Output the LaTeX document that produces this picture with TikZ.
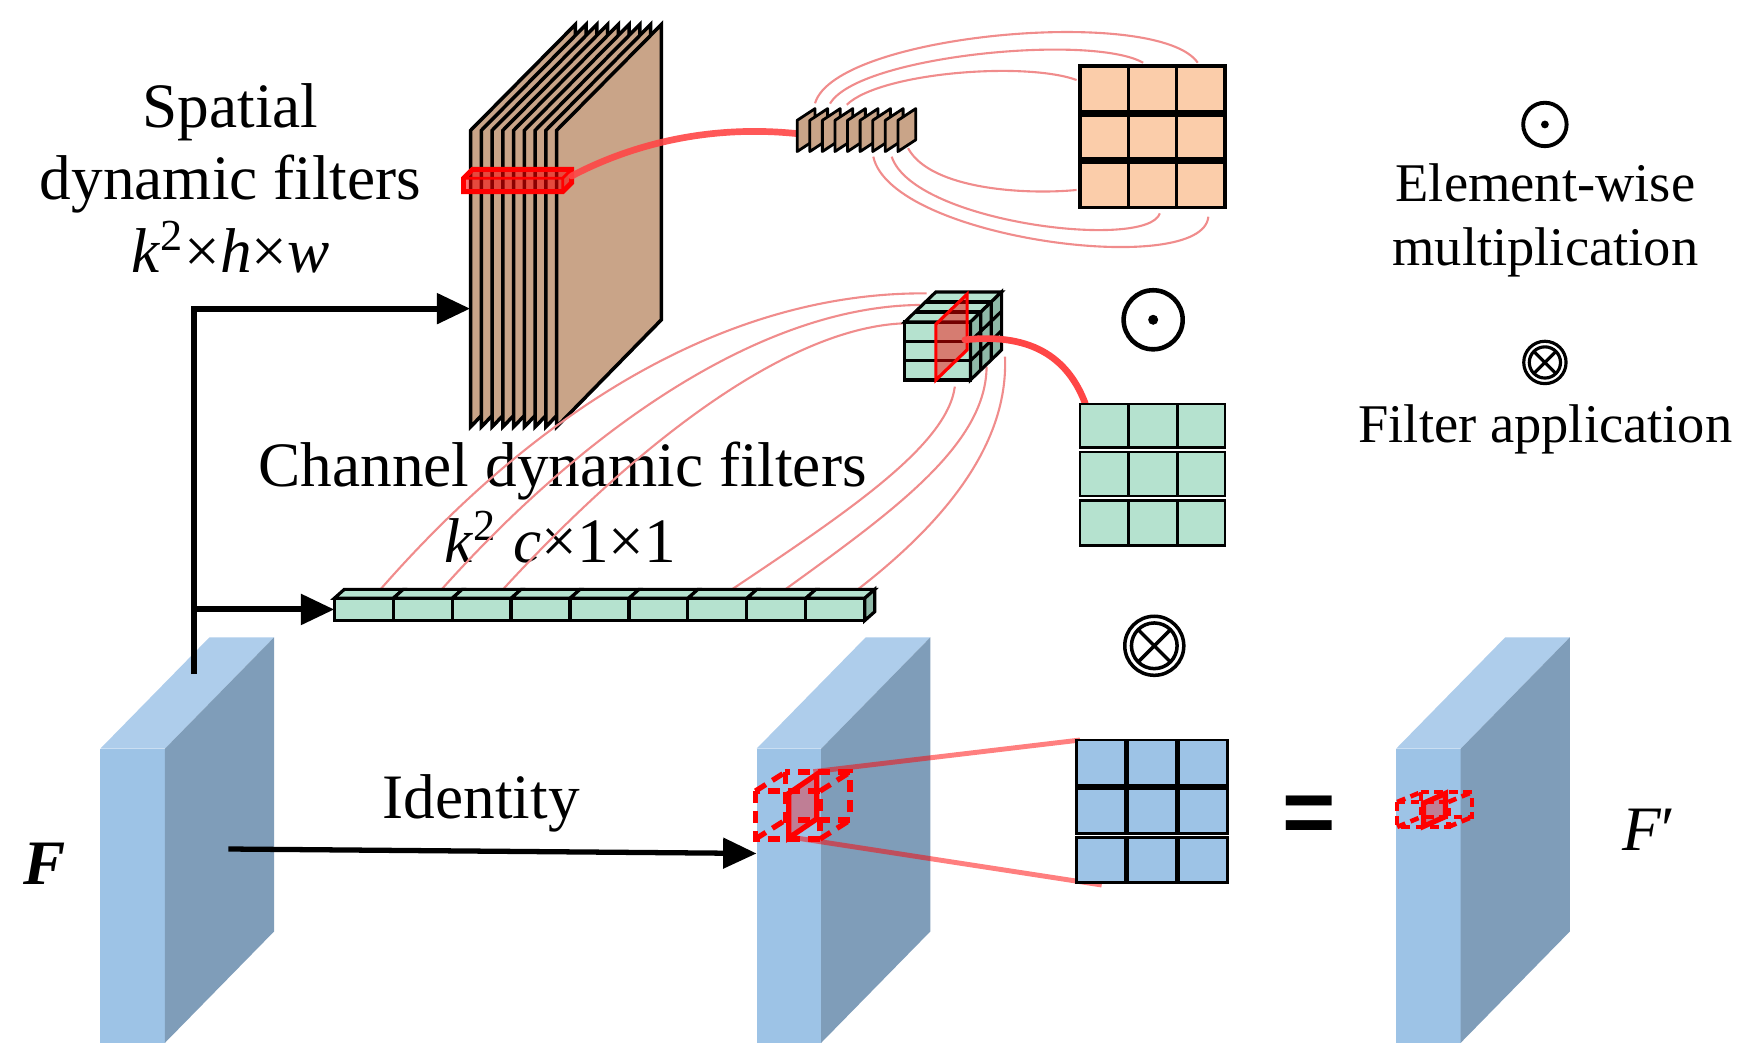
\documentclass[tikz,border=0pt]{standalone}
\usepackage{fontspec}
\setmainfont{Liberation Serif}
\newfontfamily\eqfont{Liberation Sans}
\usetikzlibrary{arrows.meta}
\definecolor{bfront}{RGB}{157,195,230}
\definecolor{btop}{RGB}{174,205,235}
\definecolor{bside}{RGB}{127,157,185}
\definecolor{brownf}{RGB}{201,164,136}
\definecolor{peach}{RGB}{251,205,170}
\definecolor{mint}{RGB}{181,226,207}
\definecolor{mintdark}{RGB}{143,185,168}
\definecolor{pinkline}{RGB}{240,140,140}
\definecolor{redline}{RGB}{255,70,70}
\newcommand\dcube{%
  \draw[rdash] (0,17) rectangle (58,60);
  \draw[rdash] (27,0) rectangle (85,43);
  \draw[rdash] (0,17) -- (27,0) (58,17) -- (85,0) (58,60) -- (85,43) (0,60) -- (27,43);
  \filldraw[draw=red,line width=1.5pt,fill=red,fill opacity=0.35] (30,59) -- (30,19) -- (55,2) -- (55,42) -- cycle;
}
\begin{document}
\begin{tikzpicture}[x=0.01114cm,y=-0.01114cm,
  blackarrow/.style={line width=1.7pt,-{Triangle[length=9.5pt,width=8.5pt]}},
  pinkc/.style={draw=pinkline,line width=0.6pt},
  thickred/.style={draw=redline,line width=1.9pt,line cap=round},
  lbl/.style={font=\fontsize{18}{21}\selectfont,inner sep=0pt,anchor=base},
  leg/.style={font=\fontsize{15.5}{18}\selectfont,inner sep=0pt,anchor=base},
  rdash/.style={draw=red,line width=1.5pt,dash pattern=on 3.5pt off 2.2pt}
]
\useasboundingbox (0,0) rectangle (1568,949);

% ---------- blue feature blocks ----------
\foreach \ox in {0,589,1163}{
  \begin{scope}[shift={(\ox,0)}]
    \fill[bfront] (90,672) rectangle (148,936);
    \fill[btop] (90,672) -- (188,572) -- (246,572) -- (148,672) -- cycle;
    \fill[bside] (148,672) -- (246,572) -- (246,836) -- (148,936) -- cycle;
  \end{scope}
}

% ---------- black arrows ----------
\coordinate (Fout) at (174,605);
\coordinate (split) at (174,547);
\coordinate (stackin) at (422,277);
\coordinate (barin) at (300,547);
\coordinate (idS) at (205,762);
\coordinate (idE) at (679,766);
\draw[blackarrow] (Fout) |- (stackin);
\draw[blackarrow] (split) -- (barin);
\draw[blackarrow,line width=1.5pt] (idS) -- (idE);

% ---------- texts ----------
\node[lbl] (sp1) at (207,114) {Spatial};
\node[lbl] (sp2) at (207,179) {dynamic filters};
\node[lbl] (sp3) at (207,245) {\textit{k}\textsuperscript{2}×\textit{h}×\textit{w}};
\node[lbl] (ch1) at (505,437) {Channel dynamic filters};
\node[lbl] (ch2) at (503,505) {\textit{k}\textsuperscript{2} \textit{c}×1×1};
\node[lbl] (idt) at (432,735) {Identity};
\node[lbl] (Fin) at (40,794) {\textbf{\textit{F}}};
\node[lbl] (Fo) at (1480,763) {\textit{F}′};
\node[leg] (lg1) at (1387,181) {Element-wise};
\node[leg] (lg2) at (1387,238) {multiplication};
\node[leg] (lg3) at (1387,397) {Filter application};
\node[font=\eqfont\bfseries\fontsize{26}{26}\selectfont,inner sep=0pt] (eq) at (1175,736) {=};

% ---------- spatial filter stack ----------
\foreach \i in {0,...,8}{
  \pgfmathsetmacro{\xx}{422.4+9.65*\i}
  \filldraw[fill=brownf,draw=black,line width=1pt] (\xx,117) -- ({\xx+94},22) -- ({\xx+94},287) -- (\xx,383) -- cycle;
}
\coordinate (redbar) at (513,158);
\filldraw[draw=red,line width=1.4pt,fill=red,fill opacity=0.55] (416,160) -- (424,152) -- (513,152) -- (513,164) -- (505,172) -- (416,172) -- cycle;
\draw[red,line width=0.8pt] (416,160) -- (505,160) -- (513,152) (505,160) -- (505,172);

% spatial thin curves
\coordinate (sT1) at (760,94);   \coordinate (pT1) at (966.3,71.8);
\coordinate (sT2) at (745,93);   \coordinate (pT2) at (1026,56.3);
\coordinate (sT3) at (731.5,92.7); \coordinate (pT3) at (1075,56.3);
\coordinate (sB1) at (815,133);  \coordinate (pB1) at (966.3,170.5);
\coordinate (sB2) at (800.3,140.6); \coordinate (pB2) at (1041,191.5);
\coordinate (sB3) at (783.8,140.6); \coordinate (pB3) at (1084.5,194.5);
\draw[pinkc] (sT1) .. controls (790,65) and (920,55) .. (pT1);
\draw[pinkc] (sT2) .. controls (770,50) and (980,30) .. (pT2);
\draw[pinkc] (sT3) .. controls (750,30) and (1040,5) .. (pT3);
\draw[pinkc] (sB1) .. controls (835,170) and (920,175) .. (pB1);
\draw[pinkc] (sB2) .. controls (820,200) and (1030,225) .. (pB2);
\draw[pinkc] (sB3) .. controls (800,215) and (1080,250) .. (pB3);

\coordinate (smallin) at (716,120);
\draw[thickred,opacity=0.9] (redbar) .. controls (570,128) and (640,112) .. (smallin);

\foreach \i in {0,...,8}{
  \pgfmathsetmacro{\xx}{715.5+11.3*\i}
  \filldraw[fill=brownf,draw=black,line width=0.8pt,line join=round] (\xx,136) -- (\xx,108) -- ({\xx+16},97.5) -- ({\xx+16},125.5) -- cycle;
}

% peach grid
\fill[peach] (969.3,59.2) rectangle (1099.5,186.4);
\draw[line width=1pt] (969.3,59.2) rectangle (1099.5,186.4) (1012.7,59.2) -- (1012.7,186.4) (1056.1,59.2) -- (1056.1,186.4);
\draw[line width=2pt] (969.3,101.6) -- (1099.5,101.6) (969.3,144) -- (1099.5,144);

% ---------- channel filters ----------
\coordinate (cL1) at (339.7,531); \coordinate (eL1) at (831.7,263.3);
\coordinate (cL2) at (394.6,531); \coordinate (eL2) at (825.7,273.7);
\coordinate (cL3) at (449.6,531); \coordinate (eL3) at (810.7,290.2);
\coordinate (cR1) at (653.9,531); \coordinate (eR1) at (857,347);
\coordinate (cR2) at (702,531);   \coordinate (eR2) at (885.5,329);
\coordinate (cR3) at (767.3,531); \coordinate (eR3) at (902,320);
\draw[pinkc] (cL1) .. controls (480,370) and (650,262) .. (eL1);
\draw[pinkc] (cL2) .. controls (520,390) and (680,275) .. (eL2);
\draw[pinkc] (cL3) .. controls (560,410) and (700,295) .. (eL3);
\draw[pinkc] (cR1) .. controls (760,460) and (850,400) .. (eR1);
\draw[pinkc] (cR2) .. controls (800,460) and (885,400) .. (eR2);
\draw[pinkc] (cR3) .. controls (860,460) and (905,390) .. (eR3);

\foreach \i in {0,...,8}{
  \pgfmathsetmacro{\xa}{300+52.9*\i}
  \filldraw[fill=mint,line width=0.9pt] (\xa,537) rectangle ({\xa+52.9},557);
  \filldraw[fill=mint,line width=0.9pt] (\xa,537) -- ({\xa+9},529) -- ({\xa+61.9},529) -- ({\xa+52.9},537) -- cycle;
}
\filldraw[fill=mintdark,line width=0.9pt] (776.1,537) -- (785.1,529) -- (785.1,549) -- (776.1,557) -- cycle;

% cube
\filldraw[fill=mint,line width=0.9pt] (812,289) rectangle (871,341);
\draw[line width=0.9pt] (812,306.3) -- (871,306.3) (812,323.7) -- (871,323.7);
\filldraw[fill=mint,line width=0.9pt] (812,289) -- (840,262) -- (899,262) -- (871,289) -- cycle;
\draw[line width=0.9pt] (821.3,280) -- (880.3,280) (830.7,271) -- (889.7,271);
\filldraw[fill=mintdark,line width=0.9pt] (871,289) -- (899,262) -- (899,314) -- (871,341) -- cycle;
\draw[line width=0.9pt] (880.3,280) -- (880.3,332) (889.7,271) -- (889.7,323) (871,306.3) -- (899,279.3) (871,323.7) -- (899,296.7);
\filldraw[draw=red,line width=0.9pt,fill=red,fill opacity=0.45] (840,341) -- (840,291) -- (868,264) -- (868,314) -- cycle;

\coordinate (cubeout) at (866,305);
\coordinate (greenin) at (974,362);
\draw[thickred] (cubeout) .. controls (930,298) and (960,325) .. (greenin);

% green grid
\foreach \ya/\yb in {362.6/401.3,405.6/445.2,449.3/489.8}{
  \filldraw[fill=mint,line width=0.8pt] (969.3,\ya) rectangle (1099.5,\yb);
  \draw[line width=0.8pt] (1012.7,\ya) -- (1012.7,\yb) (1056.7,\ya) -- (1056.7,\yb);
}

% ---------- operators ----------
\coordinate (odot) at (1035,287);
\draw[line width=1.3pt] (odot) circle (26.5);
\fill (odot) circle (4.5);
\coordinate (otimes) at (1036,579.6);
\draw[line width=1pt] (otimes) circle (26.5) (otimes) circle (20.5);
\draw[line width=1pt] (otimes) ++(-14.5,-14.5) -- ++(29,29) (otimes) ++(-14.5,14.5) -- ++(29,-29);
\coordinate (lodot) at (1386.6,111.7);
\draw[line width=1.1pt] (lodot) circle (19.5);
\fill (lodot) circle (3.5);
\coordinate (lotimes) at (1386.6,325.3);
\draw[line width=0.9pt] (lotimes) circle (19) (lotimes) circle (14);
\draw[line width=0.9pt] (lotimes) ++(-9.9,-9.9) -- ++(19.8,19.8) (lotimes) ++(-9.9,9.9) -- ++(19.8,-19.8);

% ---------- filter application on the feature ----------
\begin{scope}[shift={(678,693)}] \dcube \end{scope}
\coordinate (cubeT) at (730,692.6); \coordinate (gridT) at (969.3,664.2);
\coordinate (cubeB) at (707.5,751); \coordinate (gridB) at (988.8,794.3);
\draw[red,opacity=0.5,line width=1.4pt] (cubeT) -- (gridT) (cubeB) -- (gridB);
\foreach \cx in {966.3,1012.2,1058.1}{
  \foreach \cy in {664.2,707.8,751.4}{
    \filldraw[fill=bfront,line width=0.8pt] (\cx,\cy) rectangle ({\cx+43.6},{\cy+40.5});
  }
}
\begin{scope}[shift={(1254,711)},xscale=0.79,yscale=0.52,rdash/.style={draw=red,line width=1.3pt,dash pattern=on 2.5pt off 1.6pt}] \dcube \end{scope}
\end{tikzpicture}
\end{document}
